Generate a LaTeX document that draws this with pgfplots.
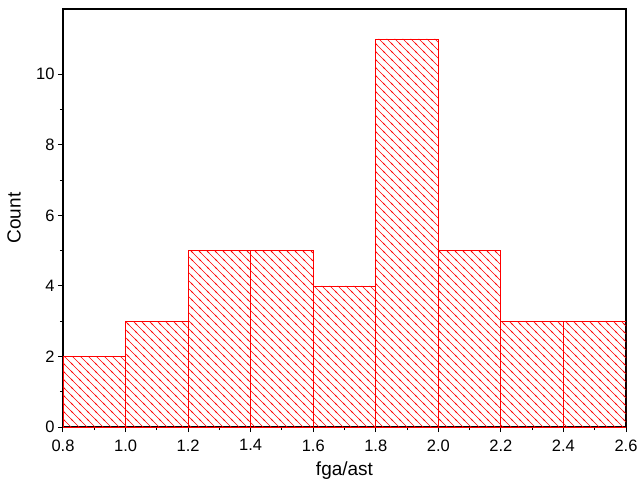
\documentclass[border=0pt]{standalone}
\usepackage{pgfplots}
\pgfplotsset{compat=1.18}
\usepackage{fontspec}
\setmainfont{Liberation Sans}
\usetikzlibrary{patterns.meta}
\tikzdeclarepattern{
  name=redhatch,
  type=colored,
  bottom left={(-1pt,-1pt)},
  top right={(9pt,9pt)},
  tile size={(8pt,8pt)},
  code={
    \draw[red, line width=0.6pt] (-1pt,9pt) -- (9pt,-1pt);
    \draw[red, line width=0.6pt] (-1pt,1pt) -- (1pt,-1pt);
    \draw[red, line width=0.6pt] (7pt,9pt) -- (9pt,7pt);
  }
}
\begin{document}
\begin{tikzpicture}
\useasboundingbox (-63pt,-65pt) rectangle (581pt,427pt);
\begin{axis}[
  at={(0,0)}, anchor=south west,
  scale only axis, width=563pt, height=418pt,
  xmin=0.8, xmax=2.6, ymin=0, ymax=11.85,
  xtick={0.8,1.0,...,2.61}, ytick={0,2,...,10},
  minor x tick num=1, minor y tick num=1,
  tick pos=left, tick align=outside,
  major tick length=5pt, minor tick length=3pt,
  axis line style={line width=1.2pt},
  every tick/.style={black, line width=1pt},
  /pgf/number format/assume math mode=true,
  xticklabel style={/pgf/number format/fixed, /pgf/number format/fixed zerofill, /pgf/number format/precision=1, yshift=-4pt},
  tick label style={font=\fontsize{16.5}{19}\selectfont},
  label style={font=\fontsize{19}{22}\selectfont},
  xlabel={fga/ast}, ylabel={Count},
  xlabel style={at={(axis description cs:0.5,-0.104)}, anchor=center},
  ylabel style={at={(axis description cs:-0.087,0.5)}, anchor=center},
]
\addplot[ybar interval, draw=red, line width=0.8pt, pattern=redhatch]
  coordinates {(0.8,2)(1.0,3)(1.2,5)(1.4,5)(1.6,4)(1.8,11)(2.0,5)(2.2,3)(2.4,3)(2.6,3)};
\end{axis}
\end{tikzpicture}
\end{document}
